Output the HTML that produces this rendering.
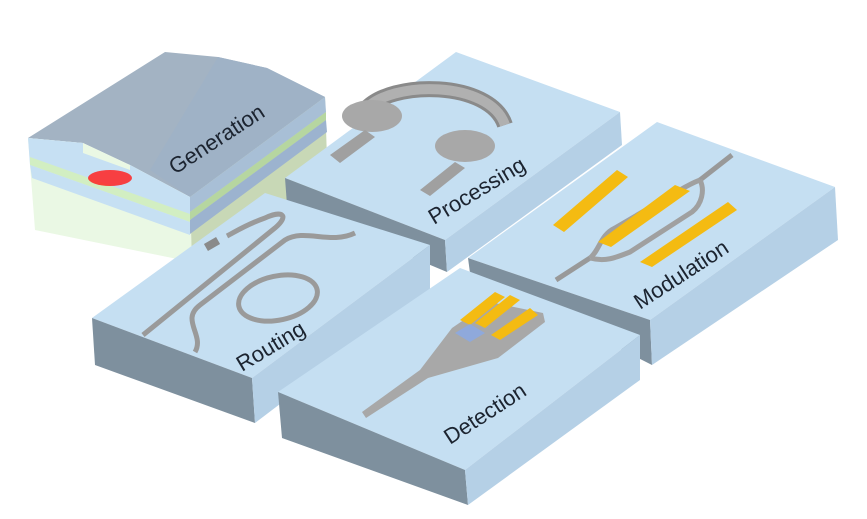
<!DOCTYPE html><html><head><style>body{margin:0;background:#fff}svg{display:block}text{font-family:"Liberation Sans",sans-serif;fill:#1c2430}</style></head><body>
<svg width="867" height="519" viewBox="0 0 867 519">
<!-- Generation -->
<polygon points="28,138 165,52 218,57 267,68 325,97 190,197 130,165 83,143" fill="#a3b3c3"/>
<polygon points="218,57 267,68 325,97 190,197 150,170" fill="#9fb2c6"/>
<polygon points="28,138 83,143 130,165 190,197 192,262 35,230" fill="#eaf8e4"/>
<polygon points="28,138 83,143 83,153 130,170 130,165 190,197 190,222 30,165" fill="#c6e0f3"/>
<polygon points="30,157 190,214 190,222 30,165" fill="#d2eec2"/>
<polygon points="30,165 190,222 190,235 32,178" fill="#c6e0f3"/>
<ellipse cx="110" cy="178" rx="22" ry="8" fill="#f22" opacity=".85"/>
<polygon points="190,197 325,97 328,190 192,262" fill="#c8d8b6"/>
<polygon points="190,197 325,97 326,112 190,212" fill="#a8bfd6"/>
<polygon points="190,212 326,112 326,120 190,220" fill="#b6d6a0"/>
<polygon points="190,220 326,120 327,132 190,234" fill="#9cb3cf"/>
<text transform="translate(175,175) rotate(-33)" font-size="22">Generation</text>
<!-- Processing -->
<polygon points="285,178 456,52 620,112 445,240" fill="#c5dff2"/>
<polygon points="285,178 445,240 447,272 287,205" fill="#7e909e"/>
<polygon points="445,240 620,112 622,145 447,272" fill="#b5d0e6"/>
<path d="M365,110 C390,80 490,80 505,125" stroke="#8a8a8a" stroke-width="16" fill="none"/>
<path d="M365,110 C390,80 490,80 505,125" stroke="#b0b0b0" stroke-width="10" fill="none"/>
<ellipse cx="372" cy="116" rx="30" ry="16" fill="#a8a8a8"/><ellipse cx="465" cy="146" rx="30" ry="16" fill="#a8a8a8"/>
<polygon points="330,155 365,130 375,137 340,163" fill="#a0a0a0"/>
<polygon points="420,190 455,162 465,168 430,196" fill="#a0a0a0"/>
<text transform="translate(434,225) rotate(-31)" font-size="22">Processing</text>
<!-- Modulation -->
<polygon points="468,258 657,122 835,187 650,320" fill="#c5dff2"/>
<polygon points="468,258 650,320 652,365 470,273" fill="#7e909e"/>
<polygon points="650,320 835,187 838,240 652,365" fill="#b5d0e6"/>
<path d="M556,280 L590,258 M732,155 L700,180" stroke="#999" stroke-width="5"/>
<path d="M590,258 C600,250 600,235 615,228 L680,190 C692,183 695,182 700,180 M590,258 C605,262 615,258 630,252 L692,212 C702,204 705,190 700,180" stroke="#a0a0a0" stroke-width="5" fill="none"/>
<polygon points="553,225 617,170 628,177 564,232" fill="#f4bb12"/>
<polygon points="598,242 675,185 690,191 611,247" fill="#f4bb12"/>
<polygon points="640,262 728,202 737,210 652,267" fill="#f4bb12"/>
<text transform="translate(640,310) rotate(-33)" font-size="22">Modulation</text>
<!-- Routing -->
<polygon points="92,318 265,193 430,245 252,378" fill="#c5dff2"/>
<polygon points="92,318 252,378 255,423 95,365" fill="#7e909e"/>
<polygon points="252,378 430,245 430,290 255,423" fill="#b5d0e6"/>
<path d="M143,335 L275,228 C290,215 282,210 265,218 C245,225 235,232 227,236 M195,352 C205,335 180,320 200,305 L285,240 C305,228 330,245 355,233" stroke="#9a9a9a" stroke-width="5" fill="none"/>
<ellipse cx="278" cy="298" rx="40" ry="22" stroke="#9a9a9a" stroke-width="5" fill="none" transform="rotate(-12 278 298)"/>
<rect x="205" y="240" width="14" height="8" fill="#8a8a8a" transform="rotate(-30 212 244)"/>
<text transform="translate(242,372) rotate(-31)" font-size="22">Routing</text>
<!-- Detection -->
<polygon points="278,392 460,268 640,335 465,470" fill="#c5dff2"/>
<polygon points="278,392 465,470 468,505 282,438" fill="#7e909e"/>
<polygon points="465,470 640,335 640,380 468,505" fill="#b5d0e6"/>
<polygon points="362,412 420,370 452,328 490,302 543,313 545,322 498,358 428,378 366,418" fill="#a8a8a8"/>
<polygon points="460,320 495,292 505,297 470,325" fill="#f4bb12"/>
<polygon points="475,323 510,295 520,300 485,328" fill="#f4bb12"/>
<polygon points="491,335 530,308 538,315 500,340" fill="#f4bb12"/>
<polygon points="455,333 470,324 485,333 470,342" fill="#8fa9db"/>
<text transform="translate(450,445) rotate(-33)" font-size="22">Detection</text>
</svg></body></html>
